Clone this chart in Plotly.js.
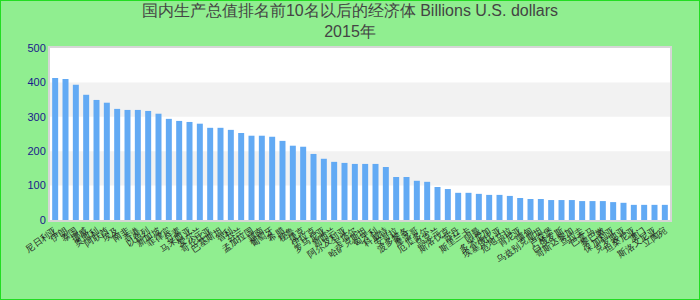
<!DOCTYPE html>
<html>
<head>
<meta charset="utf-8">
<script src="https://cdn.plot.ly/plotly-3.0.1.min.js"></script>
<style>
html,body{margin:0;padding:0;background:#90EE90;}
#chart{width:698px;height:298px;border:1px solid #22dd22;}
</style>
</head>
<body>
<div id="chart"></div>
<script>
const categories = ["尼日利亚","伊朗","泰国","挪威","奥地利","阿联酋","埃及","南非","香港","以色列",
"新加坡","菲律宾","丹麦","马来西亚","爱尔兰","哥伦比亚","巴基斯坦","智利","芬兰","孟加拉国",
"越南","葡萄牙","希腊","秘鲁","捷克","伊拉克","罗马尼亚","新西兰","阿尔及利亚","卡塔尔",
"哈萨克斯坦","匈牙利","科威特","安哥拉","波多黎各","摩洛哥","厄瓜多尔","乌克兰","斯洛伐克","苏丹",
"斯里兰卡","阿曼","多米尼加","埃塞俄比亚","危地马拉","肯尼亚","缅甸","乌兹别克斯坦","卢森堡","白俄罗斯",
"哥斯达黎加","乌拉圭","巴拿马","黎巴嫩","保加利亚","克罗地亚","坦桑尼亚","澳门","斯洛文尼亚","立陶宛"];
const values2015 = [413,410,393,364,349,341,323,320,320,317,
309,294,288,285,280,268,268,262,253,245,
245,242,230,216,213,192,178,169,166,163,
163,163,154,125,125,114,111,96,90,79,
79,76,73,73,70,64,61,61,58,58,
58,55,55,55,52,50,44,44,44,44];
const yTicks = [0,100,200,300,400,500];
const bandRanges = [[100,200],[300,400]];
const titleText = "国内生产总值排名前10名以后的经济体 Billions U.S. dollars<br>2015年";

const shapes = bandRanges.map(r => ({
  type:'rect', xref:'paper', yref:'y', x0:0, x1:1, y0:r[0], y1:r[1],
  fillcolor:'#f2f2f2', line:{width:0}, layer:'below'
}));

const trace = {
  type:'bar', x:categories, y:values2015,
  marker:{color:'#62aaf4'}, hoverinfo:'x+y'
};

const layout = {
  width:698, height:298,
  paper_bgcolor:'#90EE90', plot_bgcolor:'#ffffff',
  margin:{l:49,r:29,t:47,b:79},
  font:{family:'Liberation Sans, Arial, sans-serif'},
  title:{text:titleText, x:0.5, xanchor:'center', y:0.948, yanchor:'top', yref:'container',
    font:{size:16,color:'#444444'}},
  bargap:0.42,
  showlegend:false,
  shapes:shapes,
  xaxis:{type:'category', tickmode:'array', tickvals:categories, ticktext:categories,
    tickangle:-35, tickfont:{size:9,color:'#222222'},
    showgrid:false, showline:true, mirror:true, linecolor:'#d6d6d6', linewidth:2, ticks:'', automargin:false},
  yaxis:{range:[0,500], tickvals:yTicks, tickfont:{size:11,color:'#1a1a8c'},
    showgrid:false, zeroline:false, showline:true, mirror:true, linecolor:'#d6d6d6', linewidth:2, ticks:'', automargin:false}
};

Plotly.newPlot('chart',[trace],layout,{displayModeBar:false,staticPlot:true});
</script>
</body>
</html>
